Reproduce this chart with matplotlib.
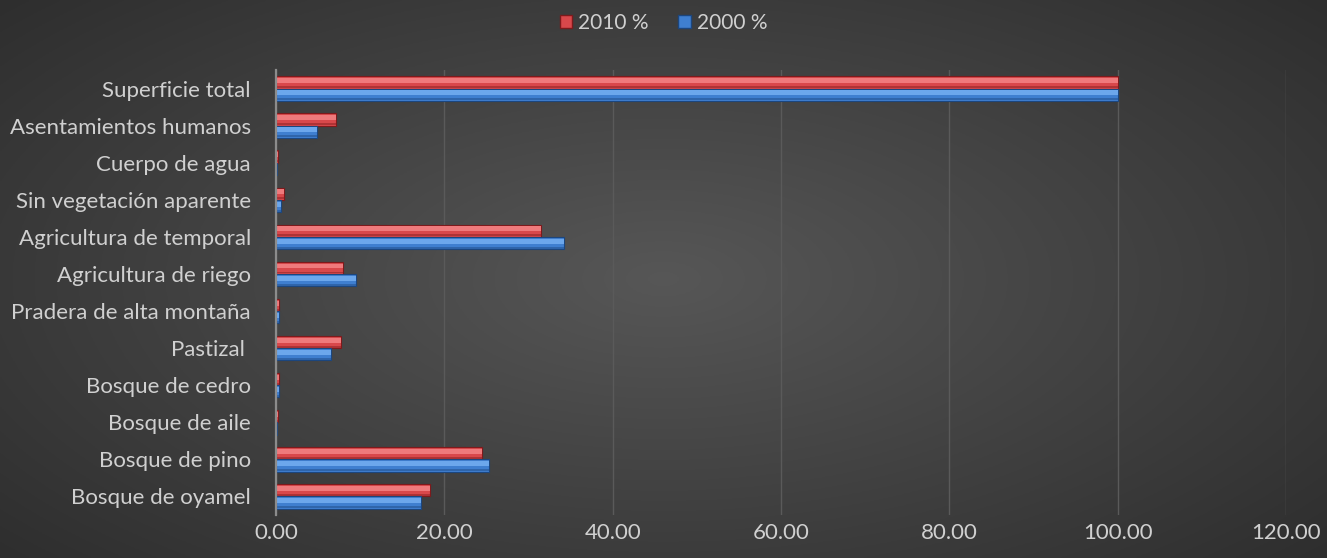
import matplotlib.pyplot as plt
import numpy as np
from matplotlib.patches import Patch

# categories listed top to bottom
categories = ["Superficie total", "Asentamientos humanos", "Cuerpo de agua",
              "Sin vegetación aparente", "Agricultura de temporal", "Agricultura de riego",
              "Pradera de alta montaña", "Pastizal ", "Bosque de cedro", "Bosque de aile",
              "Bosque de pino", "Bosque de oyamel"]
pct_2010 = [100.0, 7.1, 0.2, 0.9, 31.5, 8.0, 0.4, 7.7, 0.3, 0.2, 24.5, 18.3]
pct_2000 = [100.0, 4.9, 0.15, 0.6, 34.2, 9.5, 0.4, 6.5, 0.3, 0.1, 25.3, 17.2]
xticks = [0, 20, 40, 60, 80, 100, 120]

plt.rcParams['font.family'] = ['Lato', 'DejaVu Sans']
txt = '#d0d0d0'

fig = plt.figure(figsize=(13.27, 5.58), dpi=100)

# radial dark gradient background
bg = fig.add_axes([0, 0, 1, 1], zorder=-1)
yy, xx = np.mgrid[-1:1:300j, -1:1:600j]
r = np.sqrt(xx**2 + (yy * 0.9)**2)
shade = 0.34 - 0.16 * np.clip(r / 1.35, 0, 1)
bg.imshow(np.dstack([shade] * 3), aspect='auto', extent=[0, 1, 0, 1])
bg.axis('off')

ax = fig.add_axes([276 / 1327, 1 - 515 / 558, 1010 / 1327, 445 / 558])
ax.set_facecolor('none')

y = np.arange(len(categories))
h = 0.33

def bevel_bars(pos, vals, base, light, dark):
    ax.barh(pos, vals, height=h, color=base, edgecolor=dark, linewidth=0.8, zorder=3)
    ax.barh(pos - h * 0.15, vals, height=h * 0.4, color=light, linewidth=0, zorder=4)
    ax.barh(pos + h * 0.38, vals, height=h * 0.16, color=dark, linewidth=0, alpha=0.45, zorder=4)

bevel_bars(y - h / 2, pct_2010, '#d9484b', '#ef7a7c', '#7d1a1c')
bevel_bars(y + h / 2, pct_2000, '#3f7fd0', '#6ca7ec', '#1c467e')

ax.set_xlim(0, 120)
ax.set_ylim(len(categories) - 0.5, -0.5)
ax.set_xticks(xticks)
ax.set_xticklabels([f"{v:.2f}" for v in xticks])
ax.set_yticks(y)
ax.set_yticklabels(categories)
ax.tick_params(axis='both', length=0, colors=txt, labelsize=16)
ax.tick_params(axis='y', pad=18)
ax.tick_params(axis='x', pad=6)
ax.grid(axis='x', color='#5a5a5a', linewidth=1, zorder=0)
for s in ['top', 'right', 'bottom']:
    ax.spines[s].set_visible(False)
ax.spines['left'].set_color('#8c8c8c')
ax.spines['left'].set_linewidth(1.6)
ax.spines['left'].set_zorder(5)

handles = [Patch(facecolor='#d9484b', edgecolor='#7d1a1c', label='2010 %'),
           Patch(facecolor='#3f7fd0', edgecolor='#1c467e', label='2000 %')]
leg = fig.legend(handles=handles, loc='upper center', bbox_to_anchor=(0.5, 1.01), ncol=2,
                 frameon=False, fontsize=15, handlelength=0.6, handleheight=0.6,
                 handletextpad=0.3, columnspacing=1.4, labelcolor=txt)

fig.savefig('out.png', dpi=100)
